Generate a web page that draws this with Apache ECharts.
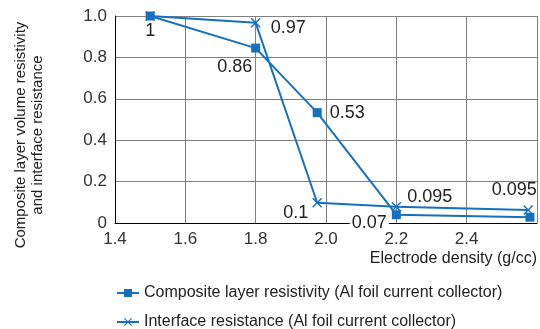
<!DOCTYPE html>
<html>
<head>
<meta charset="utf-8">
<script src="https://cdn.jsdelivr.net/npm/echarts@6/dist/echarts.min.js"></script>
<style>
  html, body { margin: 0; padding: 0; background: #fff; }
  #main { width: 540px; height: 329px; }
</style>
</head>
<body>
<div id="main"></div>
<script>
var chartDom = document.getElementById('main');
var myChart = echarts.init(chartDom);
var option;

// densities
const compositeX = [1.5, 1.8, 1.975, 2.2, 2.58];
const compositeY = [1.0, 0.845, 0.533, 0.04, 0.028];
const compositeLabels = ['1', '0.86', '0.53', '0.07', ''];

const interfaceX = [1.5, 1.8, 1.975, 2.2, 2.575];
const interfaceY = [1.0, 0.967, 0.098, 0.079, 0.063];
const interfaceLabels = ['', '0.97', '0.1', '0.095', '0.095'];

const seriesNames = [
  'Composite layer resistivity (Al foil current collector)',
  'Interface resistance (Al foil current collector)'
];

const blue = '#1570c0';
const font = 'Liberation Sans, Arial, sans-serif';
const xShape = 'path://M0,1 L1,0 L5,4 L9,0 L10,1 L6,5 L10,9 L9,10 L5,6 L1,10 L0,9 L4,5 Z';

// where each label sits around its point
const compositeLabelPos = [
  { position: 'bottom', distance: 2 },
  { position: 'left', distance: 2, offset: [5, 19], backgroundColor: '#fff', padding: [0, 2] },
  { position: 'right', distance: 8 },
  { position: 'left', distance: 6, offset: [3, 8], backgroundColor: '#fff', padding: [0, 2] },
  { show: false }
];
const interfaceLabelPos = [
  { show: false },
  { position: 'right', distance: 10, offset: [0, 5] },
  { position: 'left', distance: 6, offset: [2, 10] },
  { position: 'right', distance: 6, offset: [0, -10] },
  { position: 'top', distance: 6, offset: [-14, 0] }
];

function build(xs, ys, texts, pos) {
  return xs.map(function (x, i) {
    return {
      value: [x, ys[i]],
      label: Object.assign({
        show: texts[i] !== '',
        formatter: texts[i]
      }, pos[i])
    };
  });
}

function legendFor(name, top) {
  return {
    left: 111,
    top: top,
    itemWidth: 22,
    itemHeight: 10,
    itemGap: 8,
    textStyle: { fontSize: 16, color: '#222', fontFamily: font },
    data: [name]
  };
}

option = {
  animation: false,
  textStyle: { fontFamily: font },
  grid: {
    left: 115,
    right: 3,
    top: 16,
    bottom: 106
  },
  legend: [
    legendFor(seriesNames[0], 280),
    legendFor(seriesNames[1], 309)
  ],
  graphic: [
    {
      type: 'text',
      x: 29,
      y: 135,
      rotation: Math.PI / 2,
      style: {
        text: 'Composite layer volume resistivity\nand interface resistance',
        fontSize: 15,
        lineHeight: 17,
        fontFamily: font,
        fill: '#222',
        align: 'center',
        verticalAlign: 'middle'
      }
    }
  ],
  xAxis: {
    type: 'value',
    min: 1.4,
    max: 2.6,
    interval: 0.2,
    name: 'Electrode density (g/cc)',
    nameLocation: 'end',
    nameGap: 0,
    nameTextStyle: {
      fontSize: 16,
      color: '#222',
      align: 'right',
      verticalAlign: 'top',
      padding: [28, 0, 0, 0]
    },
    axisLine: { lineStyle: { color: '#000', width: 1 } },
    axisTick: { show: false },
    axisLabel: {
      fontSize: 17,
      color: '#333',
      margin: 8,
      formatter: function (v) {
        return Math.abs(v - 2.6) < 1e-6 ? '' : v.toFixed(1);
      }
    },
    splitLine: { show: true, lineStyle: { color: '#808080', width: 1 } }
  },
  yAxis: {
    type: 'value',
    min: 0,
    max: 1,
    interval: 0.2,
    axisLine: { show: true, lineStyle: { color: '#000', width: 1 } },
    axisTick: { show: false },
    axisLabel: {
      fontSize: 17,
      color: '#333',
      margin: 8,
      formatter: function (v) {
        return v === 0 ? '0' : v.toFixed(1);
      }
    },
    splitLine: { show: true, lineStyle: { color: '#808080', width: 1 } }
  },
  series: [
    {
      name: seriesNames[0],
      type: 'line',
      symbol: 'rect',
      symbolSize: 9,
      showAllSymbol: true,
      lineStyle: { color: blue, width: 2 },
      itemStyle: { color: blue },
      label: { fontSize: 18, color: '#222', fontFamily: font },
      data: build(compositeX, compositeY, compositeLabels, compositeLabelPos)
    },
    {
      name: seriesNames[1],
      type: 'line',
      symbol: xShape,
      symbolSize: 10,
      showAllSymbol: true,
      lineStyle: { color: blue, width: 2 },
      itemStyle: { color: blue },
      label: { fontSize: 18, color: '#222', fontFamily: font },
      data: build(interfaceX, interfaceY, interfaceLabels, interfaceLabelPos)
    }
  ]
};

option && myChart.setOption(option);
</script>
</body>
</html>
